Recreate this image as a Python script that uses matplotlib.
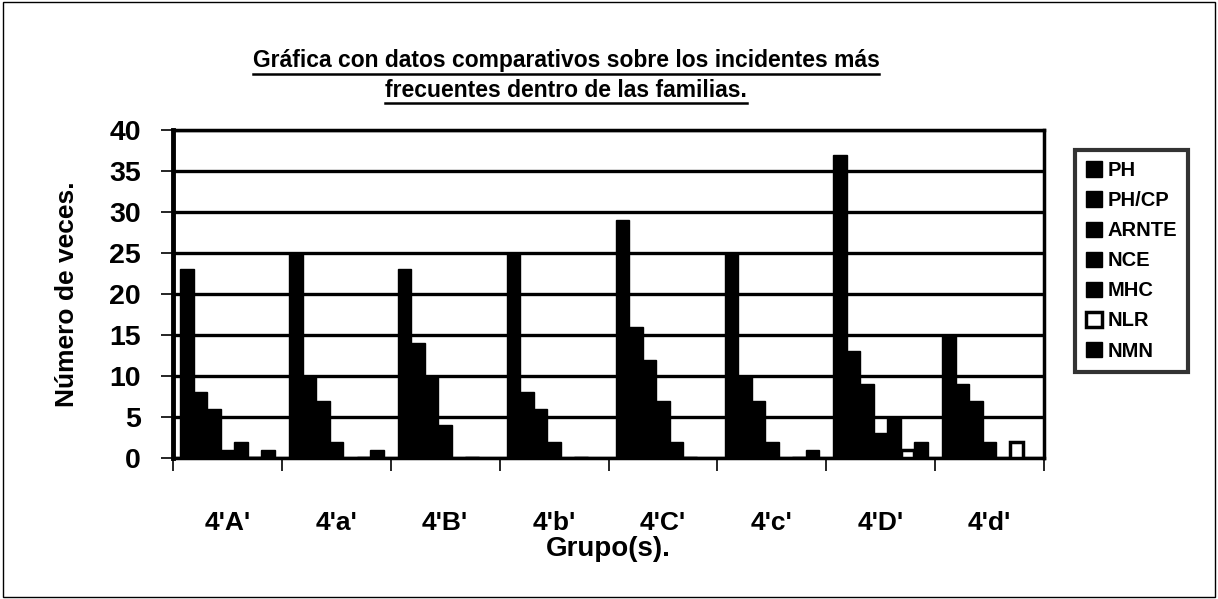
import matplotlib
matplotlib.use('Agg')
import matplotlib.pyplot as plt
import numpy as np
from matplotlib.patches import Rectangle
from matplotlib.lines import Line2D

# ---- data ----
groups = ["4'A'", "4'a'", "4'B'", "4'b'", "4'C'", "4'c'", "4'D'", "4'd'"]
series_names = ['PH', 'PH/CP', 'ARNTE', 'NCE', 'MHC', 'NLR', 'NMN']
PH    = [23, 25, 23, 25, 29, 25, 37, 15]
PHCP  = [8, 10, 14, 8, 16, 10, 13, 9]
ARNTE = [6, 7, 10, 6, 12, 7, 9, 7]
NCE   = [1, 2, 4, 2, 7, 2, 3, 2]
MHC   = [2, 0, 0, 0, 2, 0, 5, 0]
NLR   = [0, 0, 0, 0, 0, 0, 1, 2]
NMN   = [1, 1, 0, 0, 0, 1, 2, 0]
yticks = [0, 5, 10, 15, 20, 25, 30, 35, 40]
title_lines = ["Gráfica con datos comparativos sobre los incidentes más",
               "frecuentes dentro de las familias."]
ylabel = "Número de veces."
xlabel = "Grupo(s)."

plt.rcParams['font.family'] = ['Liberation Sans', 'DejaVu Sans']

W, H = 1218, 599
fig = plt.figure(figsize=(W / 100, H / 100), dpi=100)


def fx(px):
    return px / W


def fy(py):
    return 1 - py / H


ax = fig.add_axes([fx(173), fy(458), fx(1044) - fx(173), fy(130) - fy(458)])

x = np.arange(len(groups))
bw = 13.5 / 109
values = [PH, PHCP, ARNTE, NCE, MHC, NLR, NMN]
for k, (name, vals) in enumerate(zip(series_names, values)):
    offs = (k - 3) * bw
    if name == 'NLR':
        ax.bar(x + offs, vals, width=bw, facecolor='white', edgecolor='black',
               linewidth=2.5, label=name, zorder=3)
    else:
        ax.bar(x + offs, vals, width=bw, facecolor='black', edgecolor='black',
               linewidth=1, label=name, zorder=3)

ax.set_xlim(-0.5, len(groups) - 0.5)
ax.set_ylim(0, 40)
ax.set_yticks(yticks)
ax.set_yticklabels([str(v) for v in yticks], fontsize=20.5, fontweight='bold')
ax.yaxis.grid(True, color='black', linewidth=2.4, zorder=1)
ax.set_axisbelow(True)

ax.set_xticks(x)
ax.set_xticklabels(groups, fontsize=19, fontweight='bold')
ax.tick_params(axis='x', which='major', length=0, pad=38)
ax.set_xticks(np.arange(-0.5, len(groups), 1.0), minor=True)
ax.tick_params(axis='x', which='minor', length=9, width=1.2, direction='out')
ax.tick_params(axis='y', length=9, width=1.2, direction='out', pad=14)

for side in ['left', 'right', 'top', 'bottom']:
    ax.spines[side].set_color('black')
ax.spines['left'].set_linewidth(3.5)
ax.spines['right'].set_linewidth(2.5)
ax.spines['top'].set_linewidth(2.5)
ax.spines['bottom'].set_linewidth(2.5)

ax.set_ylabel(ylabel, fontsize=19, fontweight='bold', labelpad=22)
ax.set_xlabel(xlabel, fontsize=20, fontweight='bold', labelpad=1)

leg = ax.legend(loc='upper left', bbox_to_anchor=(fx(1075), fy(150)),
                bbox_transform=fig.transFigure, frameon=True, fancybox=False,
                prop={'size': 14.5, 'weight': 'bold'}, handlelength=0.8,
                handleheight=0.8, handletextpad=0.25, labelspacing=0.55,
                borderpad=0.55, borderaxespad=0)
leg.get_frame().set_edgecolor('black')
leg.get_frame().set_linewidth(3)

# title with underline
t1 = fig.text(fx(566), fy(61), title_lines[0], ha='center', va='center',
              fontsize=16.5, fontweight='bold')
t2 = fig.text(fx(566), fy(90), title_lines[1], ha='center', va='center',
              fontsize=16.5, fontweight='bold')
fig.canvas.draw()
r = fig.canvas.get_renderer()
for t in (t1, t2):
    bb = t.get_window_extent(renderer=r)
    yline = bb.y0 - 1
    fig.add_artist(Line2D([bb.x0 / W, bb.x1 / W], [yline / H, yline / H],
                          color='black', linewidth=1.8,
                          transform=fig.transFigure))

# outer frame
fig.add_artist(Rectangle((fx(3), fy(597)), fx(1215) - fx(3), fy(2) - fy(597),
                         fill=False, edgecolor='black', linewidth=1,
                         transform=fig.transFigure))

fig.savefig('out.png', dpi=100)
